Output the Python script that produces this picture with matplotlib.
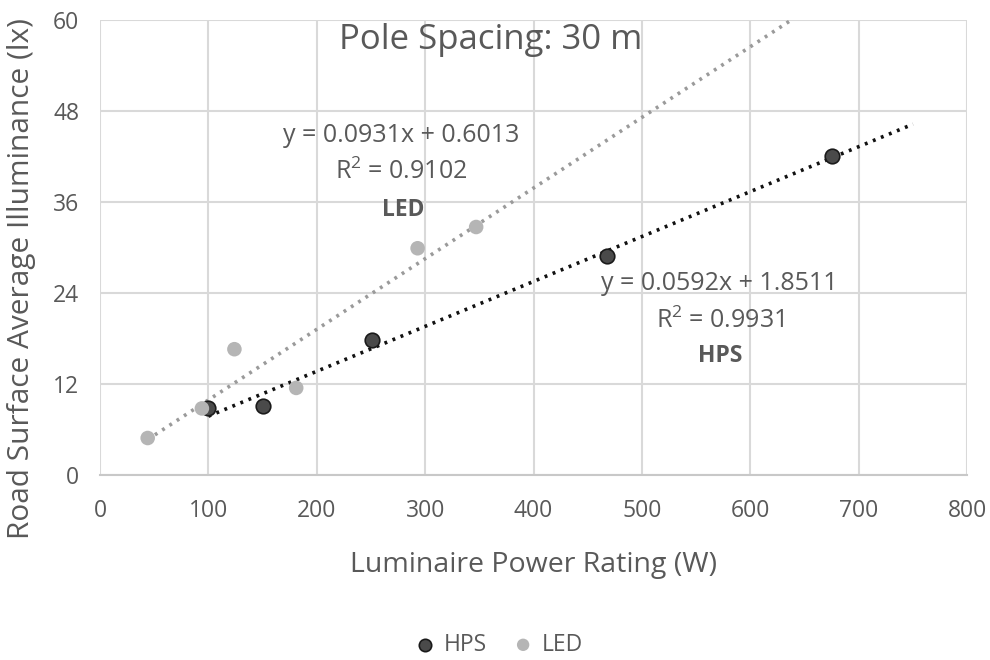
import numpy as np
import matplotlib
matplotlib.use("Agg")
import matplotlib.pyplot as plt

plt.rcParams['font.family'] = ['Open Sans', 'DejaVu Sans']

# measured luminaire power (W) and average road illuminance (lx)
hps_power = [100, 150, 251, 468, 675]
hps_lux = [8.8, 9.1, 17.8, 28.9, 42.0]
led_power = [44, 94, 124, 181, 293, 347]
led_lux = [4.9, 8.8, 16.6, 11.5, 29.9, 32.7]

# linear trendline coefficients (slope, intercept, R^2)
hps_fit = (0.0592, 1.8511, 0.9931)
led_fit = (0.0931, 0.6013, 0.9102)
trend_end = 750

x_ticks = [0, 100, 200, 300, 400, 500, 600, 700, 800]
y_ticks = [0, 12, 24, 36, 48, 60]

text_col = '#595959'
grid_col = '#d9d9d9'

fig = plt.figure(figsize=(9.9, 6.6), dpi=100)
ax = fig.add_axes([0.101, 0.280, 0.876, 0.690])

# trendlines
for power, fit, col in [(hps_power, hps_fit, '#111111'), (led_power, led_fit, '#9a9a9a')]:
    xs = np.array([min(power), trend_end])
    ax.plot(xs, fit[0] * xs + fit[1], linestyle=(0, (0.8, 1.6)), color=col,
            linewidth=2.6, zorder=2)

ax.scatter(hps_power, hps_lux, s=110, color='#4a4a4a', edgecolor='#1a1a1a',
           linewidth=1.2, label='HPS', zorder=3)
ax.scatter(led_power, led_lux, s=110, color='#b5b5b5', edgecolor='none',
           label='LED', zorder=3)

ax.set_xlim(0, 800)
ax.set_ylim(0, 60)
ax.set_xticks(x_ticks)
ax.set_yticks(y_ticks)
ax.grid(True, color=grid_col, linewidth=1.5, zorder=0)
ax.set_axisbelow(True)
for side in ['top', 'right', 'left']:
    ax.spines[side].set_visible(False)
ax.spines['bottom'].set_color('#c8c8c8')
ax.spines['bottom'].set_linewidth(1.5)
ax.tick_params(length=0, labelsize=16.5, labelcolor=text_col)
ax.tick_params(axis='x', pad=17)
ax.tick_params(axis='y', pad=15)

ax.set_xlabel('Luminaire Power Rating (W)', fontsize=20.5, color=text_col)
ax.xaxis.set_label_coords(0.5, -0.167)
ax.set_ylabel('Road Surface Average Illuminance (lx)', fontsize=21.5, color=text_col)
ax.yaxis.set_label_coords(-0.074, 0.431)

ax.text(360, 57.4, 'Pole Spacing: 30 m', ha='center', va='center', fontsize=25,
        color=text_col)

# trendline equations
ax.text(278, 44.7, 'y = %.4fx + %.4f' % (led_fit[0], led_fit[1]), ha='center',
        va='center', fontsize=18, color=text_col)
ax.text(278, 40.0, '$\\mathregular{R^2}$ = %.4f' % led_fit[2], ha='center',
        va='center', fontsize=18, color=text_col)
ax.text(280, 35.0, 'LED', ha='center', va='center', fontsize=16.5,
        fontweight='bold', color=text_col)

ax.text(571, 25.2, 'y = %.4fx + %.4f' % (hps_fit[0], hps_fit[1]), ha='center',
        va='center', fontsize=18, color=text_col)
ax.text(572, 20.4, '$\\mathregular{R^2}$ = %.4f' % hps_fit[2], ha='center',
        va='center', fontsize=18, color=text_col)
ax.text(572, 15.7, 'HPS', ha='center', va='center', fontsize=16.5,
        fontweight='bold', color=text_col)

fig.legend(loc='center', bbox_to_anchor=(0.502, 0.023), ncol=2, frameon=False,
           fontsize=16.5, labelcolor=text_col, handlelength=1.2, handletextpad=0.2,
           columnspacing=1.0, markerscale=0.85)

fig.savefig('out.png', dpi=100)
